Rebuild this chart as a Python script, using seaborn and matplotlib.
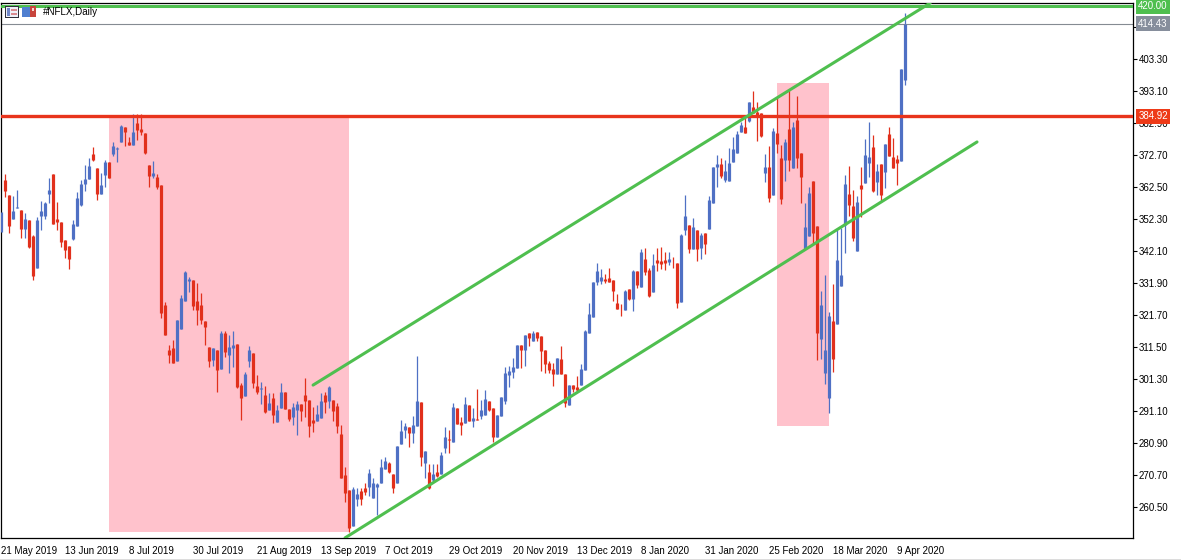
import matplotlib
matplotlib.use('Agg')
import matplotlib.pyplot as plt
from matplotlib.patches import Rectangle
import numpy as np
import pandas as pd
import seaborn as sns

#daily candles, one value per bar
opens = [348.1,364.6,359.8,352.2,355.8,355.0,349.0,351.8,346.7,336.6,
353.1,353.1,360.1,366.5,352.2,351.2,345.4,343.5,345.8,350.0,
356.6,363.3,364.9,372.9,368.3,360.1,366.2,370.3,372.9,374.5,
376.8,381.4,376.8,375.7,382.6,380.8,379.5,369.4,365.9,365.4,
363.0,324.7,310.4,310.9,307.0,317.0,326.1,332.5,332.7,326.0,
324.7,319.6,311.2,307.2,310.4,304.3,315.9,308.8,310.9,312.3,
299.2,295.8,306.9,309.3,298.9,298.1,296.1,291.3,295.0,287.5,
292.0,296.9,291.6,289.1,291.3,293.2,296.1,294.4,288.1,287.9,
288.8,296.1,294.2,294.4,292.5,283.5,270.5,265.8,254.3,263.0,
265.4,266.4,266.8,263.3,266.8,268.1,272.5,274.3,270.9,268.1,
280.4,284.9,285.8,284.0,286.3,293.7,274.5,271.6,269.0,271.4,
270.9,279.3,282.0,281.2,291.8,287.3,287.0,292.8,287.8,288.4,
289.4,289.6,294.0,291.8,282.8,289.4,294.2,302.4,303.5,304.5,
312.0,310.4,315.9,313.4,316.2,314.9,310.4,306.4,304.3,302.7,
307.5,302.7,292.9,299.2,298.5,299.2,304.0,315.9,321.0,332.1,
332.4,333.0,333.4,332.6,325.4,323.2,323.1,329.7,326.5,335.6,
330.6,339.4,335.9,329.0,339.0,338.6,339.0,338.3,339.8,338.0,
325.8,348.6,350.2,342.6,348.6,342.8,347.6,349.1,357.4,368.6,
369.7,364.6,364.4,370.3,373.3,379.8,381.5,383.5,387.7,386.1,
385.8,366.9,368.6,359.8,379.5,371.5,371.0,380.8,368.5,383.7,
373.1,342.6,346.7,364.3,349.9,313.8,303.2,295.2,319.6,318.6,
330.9,350.2,360.1,356.3,341.9,363.0,363.6,370.0,375.1,363.9,
369.7,367.1,379.2,371.9,371.3,370.6,396.5]

highs = [354.5,366.5,359.8,359.5,361.4,355.0,354.0,351.8,347.0,352.9,
357.9,357.7,365.1,366.5,357.7,351.2,345.4,343.5,351.8,360.9,
364.6,369.4,371.5,375.2,368.3,366.7,370.9,370.3,376.8,375.0,
382.1,381.4,378.4,385.6,385.6,385.6,379.5,369.4,370.6,366.5,
363.0,325.8,312.0,313.6,320.0,327.9,335.6,333.8,332.7,331.6,
328.5,319.6,311.2,311.1,310.4,316.4,316.5,315.2,316.5,312.3,
299.8,303.5,311.7,309.3,302.4,300.3,298.9,296.6,296.6,292.9,
299.8,296.9,291.6,293.4,294.2,293.2,301.4,294.4,292.3,292.9,
296.6,297.1,298.9,294.4,293.6,286.5,273.2,265.8,266.6,266.3,
266.3,267.9,272.4,269.5,268.1,275.5,276.4,274.8,270.9,279.8,
288.1,287.0,285.8,289.4,308.5,293.7,278.2,274.0,274.0,274.0,
278.0,285.7,284.9,293.4,291.8,288.9,295.5,292.8,291.8,297.9,
294.4,297.6,294.0,291.8,289.7,295.5,304.9,305.3,307.7,312.0,
312.0,315.2,315.9,316.5,316.2,314.9,310.4,307.0,306.1,307.7,
311.7,302.7,299.2,299.2,302.1,305.9,316.8,325.3,332.1,338.0,
336.2,334.5,336.4,332.6,328.2,325.1,329.5,329.7,335.9,335.6,
342.6,342.8,336.4,341.0,342.8,343.1,341.7,341.7,339.9,338.0,
347.4,359.8,350.2,352.4,348.6,347.8,347.6,359.5,368.6,372.5,
371.5,371.0,374.7,378.4,380.3,383.2,384.2,389.3,392.9,389.3,
385.8,372.9,375.4,381.3,391.1,375.7,377.5,393.3,383.2,391.4,
373.1,357.1,362.2,364.3,349.9,329.2,334.3,322.4,331.4,348.6,
349.2,366.2,369.0,361.4,359.5,368.7,377.6,383.1,378.9,369.7,
369.7,376.1,381.4,377.9,372.5,399.9,417.8]

lows = [348.1,359.1,347.8,352.2,355.8,346.2,346.0,342.8,332.7,336.6,
348.6,352.0,357.1,350.6,348.6,343.3,339.6,336.2,345.5,350.0,
356.3,361.2,364.9,370.7,358.2,360.1,362.4,365.3,372.2,370.4,
376.8,375.5,375.7,375.7,377.3,378.9,372.9,362.4,365.1,361.7,
320.6,315.3,306.1,306.4,307.0,317.0,326.1,329.0,323.1,318.4,
318.7,312.0,305.1,305.3,297.1,304.3,308.3,303.2,305.1,298.4,
288.1,295.8,305.1,298.2,296.4,293.2,290.4,291.3,287.2,287.5,
292.0,291.6,287.9,286.5,283.3,287.9,289.1,282.8,284.4,287.9,
288.8,290.2,291.8,287.9,283.8,269.7,262.0,252.5,254.3,260.7,
261.0,264.2,263.9,263.3,257.8,268.1,272.5,271.3,264.9,268.1,
280.4,282.2,279.6,280.9,286.3,273.5,269.5,266.0,268.4,270.0,
270.9,277.7,277.7,281.2,286.7,283.3,287.0,287.8,285.7,288.1,
288.3,289.6,291.1,281.2,282.8,289.4,293.2,298.7,301.4,304.5,
304.5,305.4,311.7,313.1,313.4,303.7,303.0,303.2,299.0,302.7,
302.7,292.3,292.9,296.9,297.4,299.2,304.0,315.9,321.0,331.1,
331.3,331.9,332.2,326.0,323.6,321.2,323.1,326.3,322.9,330.3,
330.6,334.3,327.4,329.0,335.6,336.1,335.9,337.5,336.4,323.9,
325.8,347.1,341.2,342.6,338.9,339.4,341.0,349.1,357.4,362.5,
365.1,363.8,364.4,370.3,373.3,379.8,379.7,383.2,385.8,377.1,
378.2,364.0,357.7,359.8,373.1,356.9,364.3,367.6,368.5,368.5,
357.1,342.6,346.7,344.4,307.2,307.4,299.4,290.2,303.3,318.6,
330.9,341.3,353.1,345.1,341.9,352.8,363.6,365.5,360.7,359.8,
357.9,362.0,372.2,368.4,363.0,370.6,394.9]

closes = [354.5,361.2,349.9,354.7,356.1,349.0,352.2,343.3,334.1,351.8,
354.7,357.4,361.4,350.6,351.2,344.9,342.3,339.4,350.6,358.7,
363.3,364.9,369.0,371.0,360.1,363.0,370.3,365.3,375.4,374.7,
381.8,379.9,375.7,379.9,380.5,379.8,373.1,365.9,366.7,362.2,
322.2,315.3,308.8,306.4,320.0,327.1,335.2,332.9,324.5,323.1,
320.0,317.8,307.0,311.1,304.0,315.9,309.9,311.2,312.0,298.7,
295.2,302.7,310.4,299.8,297.1,298.3,290.7,293.4,289.7,291.3,
296.9,291.6,288.3,292.1,293.2,291.0,294.1,286.3,287.2,290.0,
294.1,293.9,298.7,291.0,286.3,269.7,264.9,253.5,266.1,264.5,
263.0,265.1,271.1,268.1,267.7,273.0,275.0,271.6,266.3,279.8,
284.6,286.2,284.0,286.5,294.1,276.4,278.2,266.3,270.9,270.2,
276.9,282.5,281.8,292.1,286.7,286.5,293.2,287.8,288.6,288.2,
291.3,294.7,291.3,282.8,289.7,295.5,303.2,303.7,304.9,312.0,
310.4,315.2,314.3,315.9,314.3,310.2,305.9,304.0,302.7,307.7,
302.7,293.4,299.2,298.1,297.6,304.3,316.4,321.9,332.1,335.6,
333.8,332.5,332.2,329.2,323.6,323.0,329.2,326.5,335.7,331.1,
341.7,335.1,327.6,337.5,338.0,337.8,338.0,339.4,339.6,325.5,
347.2,353.1,342.6,349.6,342.6,347.0,344.2,358.2,368.6,369.7,
365.9,367.4,369.9,374.4,379.1,382.1,379.7,389.3,385.8,384.8,
378.6,368.6,358.9,380.3,376.0,358.5,376.8,371.0,381.6,371.7,
365.6,349.7,360.5,347.8,315.7,324.7,310.4,321.2,307.5,339.1,
334.3,363.3,356.6,346.1,357.6,361.7,372.5,371.9,361.1,367.4,
359.8,376.1,372.2,368.4,370.0,399.9,414.43]

date_labels = ['21 May 2019', '13 Jun 2019', '8 Jul 2019', '30 Jul 2019', '21 Aug 2019',
               '13 Sep 2019', '7 Oct 2019', '29 Oct 2019', '20 Nov 2019', '13 Dec 2019',
               '8 Jan 2020', '31 Jan 2020', '25 Feb 2020', '18 Mar 2020', '9 Apr 2020']
price_ticks = [413.5, 403.3, 393.1, 382.9, 372.7, 362.5, 352.3, 342.1, 331.9,
               321.7, 311.5, 301.3, 291.1, 280.9, 270.7, 260.5]

resistance = 384.92
target = 420.00
last_price = 414.43

#(bar, price) ends of the drawn channel
upper_channel = ([77.9, 232.2], [299.2, 421.0])
lower_channel = ([85.9, 243.9], [250.5, 376.7])

#(first bar, last bar, low price, high price) of the shaded zones
zones = [(26.9, 86.9, 252.4, 385.0), (193.9, 206.9, 286.2, 395.5)]

BLUE = '#4f70c4'
RED = '#e1301c'
GREEN = '#4fbf4f'
PINK = '#ffc2cc'
ORANGE_RED = '#e8341c'
FONT_SIZE = 7.0

sns.set_theme(style='white')
plt.rcParams['font.family'] = ['Liberation Sans', 'DejaVu Sans']

W, H = 1181, 560
fig = plt.figure(figsize=(W / 100, H / 100), dpi=100)
ax = fig.add_axes([1.5 / W, 1 - 538 / H, (1133 - 1.5) / W, (538 - 2.5) / H])

df = pd.DataFrame({'bar': np.arange(len(opens)), 'open': opens, 'high': highs,
                   'low': lows, 'close': closes})
df['side'] = np.where(df['close'] >= df['open'], 'up', 'down')
palette = {'up': BLUE, 'down': RED}

for x0, x1, lo, hi in zones:
    ax.add_patch(Rectangle((x0, lo), x1 - x0, hi - lo, facecolor=PINK, edgecolor='none', zorder=1))

wicks = df.melt(id_vars=['bar', 'side'], value_vars=['low', 'high'], value_name='price')
bodies = df.melt(id_vars=['bar', 'side'], value_vars=['open', 'close'], value_name='price')

sns.lineplot(data=wicks, x='bar', y='price', hue='side', units='bar', estimator=None,
             palette=palette, linewidth=0.9, legend=False, ax=ax, zorder=2,
             solid_capstyle='butt')
sns.lineplot(data=bodies, x='bar', y='price', hue='side', units='bar', estimator=None,
             palette=palette, linewidth=2.3, legend=False, ax=ax, zorder=3,
             solid_capstyle='butt')

ax.axhline(last_price, color='#858b92', lw=0.8, zorder=2)
ax.axhline(target, color=GREEN, lw=2.2, zorder=4)
ax.axhline(resistance, color=ORANGE_RED, lw=2.4, zorder=4)
ax.plot(*upper_channel, color=GREEN, lw=2.2, zorder=4)
ax.plot(*lower_channel, color=GREEN, lw=2.2, zorder=4)

ax.set_xlim(0.05, 282.9)
ax.set_ylim(250.46, 421.15)
ax.set_xlabel('')
ax.set_ylabel('')

ax.set_xticks(np.arange(len(date_labels)) * 16)
ax.set_xticklabels(date_labels, ha='left')
ax.yaxis.tick_right()
ax.set_yticks(price_ticks)
ax.set_yticklabels(['%.2f' % p for p in price_ticks])
ax.tick_params(axis='x', length=3, width=0.8, pad=2.5, labelsize=FONT_SIZE, colors='black')
ax.tick_params(axis='y', length=3, width=0.8, pad=1.2, labelsize=FONT_SIZE, colors='black')
for s in ax.spines.values():
    s.set_color('black')
    s.set_linewidth(0.9)

#price tags on the right scale
for price, colour in [(target, GREEN), (last_price, '#868e9c'), (resistance, '#ee3a18')]:
    ax.text(1.0046, price, '%.2f' % price, transform=ax.get_yaxis_transform(), color='white',
            fontsize=FONT_SIZE, va='center', ha='left', zorder=6, clip_on=False,
            bbox=dict(facecolor=colour, edgecolor='none', boxstyle='square,pad=0.25'))

fig.text(43 / W, 1 - 12 / H, '#NFLX,Daily', fontsize=7.1, color='black', va='center', ha='left')


def px_rect(x, y, w, h, colour):
    fig.add_artist(Rectangle((x / W, 1 - (y + h) / H), w / W, h / H, facecolor=colour,
                             edgecolor='none', transform=fig.transFigure))


#the two small toolbar icons beside the title
px_rect(5, 6, 14, 12, '#30303a')
px_rect(6, 7, 12, 10, '#eef0f8')
px_rect(7, 8, 3, 8, '#6f86c8')
px_rect(11, 9, 6, 2, '#d98a90')
px_rect(11, 13, 6, 2, '#d98a90')
px_rect(22, 7, 9, 10, '#4f7fd0')
px_rect(30, 6, 6, 11, '#c8443c')
px_rect(32, 8, 2, 3, '#f0d8d0')

#thin window edge at the bottom
px_rect(0, 558.5, W, 1.5, '#dcdcdc')

fig.savefig('out.png', dpi=100)
